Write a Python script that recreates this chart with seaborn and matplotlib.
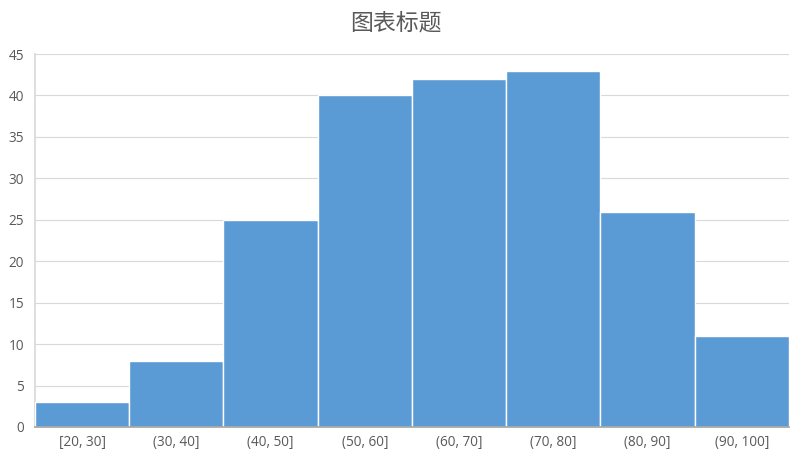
import matplotlib
matplotlib.use("Agg")
import matplotlib.pyplot as plt
import seaborn as sns
import pandas as pd

bins = ["[20, 30]", "(30, 40]", "(40, 50]", "(50, 60]", "(60, 70]", "(70, 80]", "(80, 90]", "(90, 100]"]
counts = [3, 8, 25, 40, 42, 43, 26, 11]
yticks = [0, 5, 10, 15, 20, 25, 30, 35, 40, 45]

sns.set_theme(style="white")
plt.rcParams["font.family"] = ["Open Sans", "Noto Sans CJK SC", "DejaVu Sans"]

df = pd.DataFrame({"bin": bins, "count": counts})

fig = plt.figure(figsize=(7.92, 4.62), dpi=100)
ax = fig.add_axes([0.0442, 0.0758, 0.9518, 0.8072])

sns.barplot(data=df, x="bin", y="count", color="#5B9BD5", saturation=1,
            width=1.0, edgecolor="white", linewidth=1.0, ax=ax, zorder=3)

ax.set_xlim(-0.5, len(bins) - 0.5)
ax.set_ylim(0, 45)
ax.set_yticks(yticks)
ax.yaxis.grid(True, color="#D9D9D9", linewidth=0.8, zorder=0)
ax.set_axisbelow(True)
ax.tick_params(axis="both", length=0, labelsize=9.8, labelcolor="#595959", pad=8)
ax.tick_params(axis="x", pad=6)
ax.set_xlabel("")
ax.set_ylabel("")

for side in ["top", "right"]:
    ax.spines[side].set_visible(False)
ax.spines["left"].set_color("#D9D9D9")
ax.spines["bottom"].set_color("#A6A6A6")
ax.spines["bottom"].set_zorder(4)

fig.suptitle("图表标题", fontsize=16.5, color="#595959", y=0.975,
             family=["Noto Sans CJK SC", "DejaVu Sans"])

fig.savefig("out.png", dpi=100)
